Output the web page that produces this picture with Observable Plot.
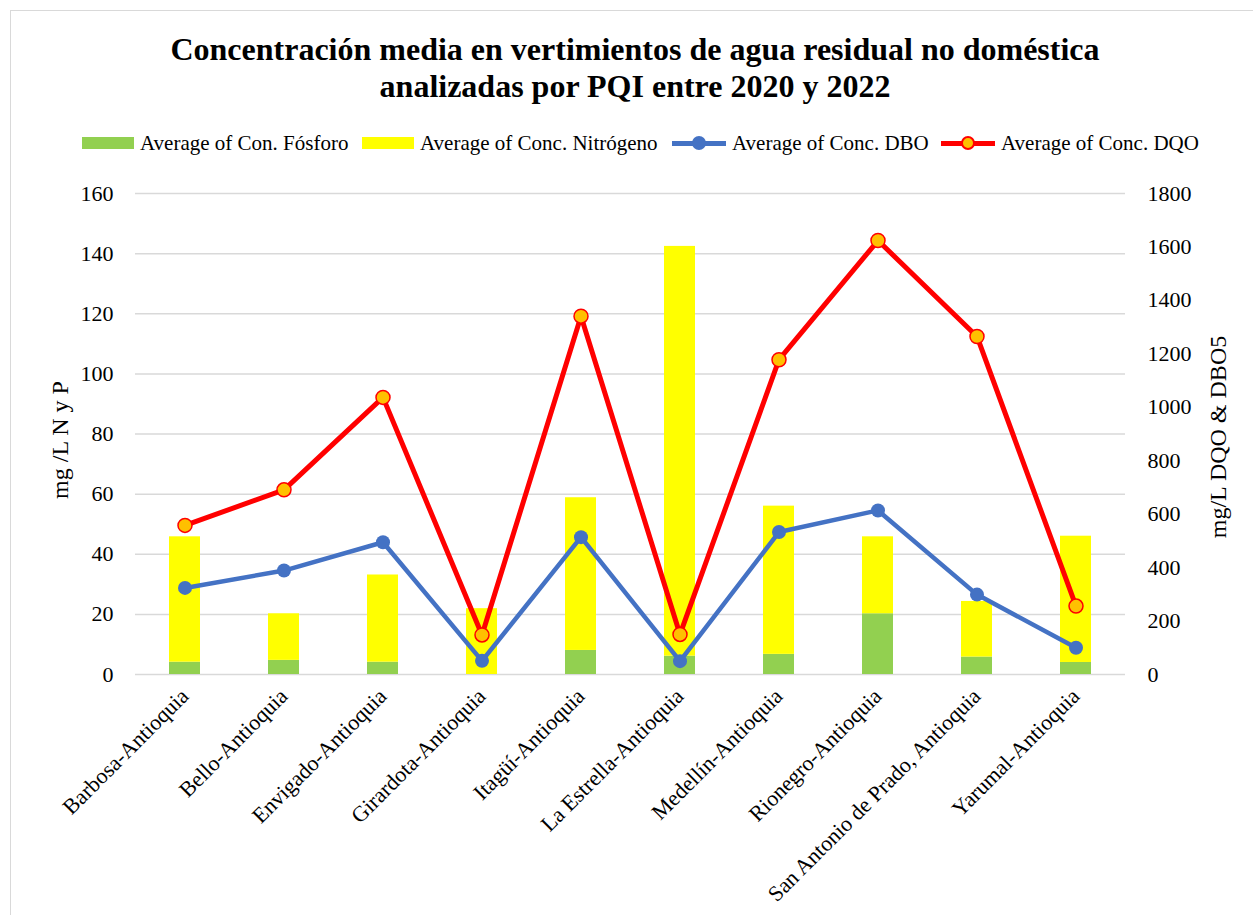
<!DOCTYPE html>
<html><head><meta charset="utf-8">
<script src="https://cdn.jsdelivr.net/npm/d3@7"></script>
<script src="https://cdn.jsdelivr.net/npm/@observablehq/plot@0.6"></script>
<style>
body{margin:0;background:#fff;font-family:"Liberation Serif","Times New Roman",serif;color:#000;}
#frame{position:absolute;left:10px;top:10px;width:1250px;height:910px;border:1px solid #d9d9d9;box-sizing:border-box;}
#title{position:absolute;left:10px;top:31px;width:1250px;text-align:center;font-weight:bold;font-size:32px;line-height:37px;}
.li{position:absolute;top:133px;height:20px;display:flex;align-items:center;font-size:21px;white-space:nowrap;}
.sw{display:inline-block;width:52px;height:12px;margin-right:6px;}
.ln{display:inline-block;position:relative;width:54px;height:20px;margin-right:6px;}
.ln i{position:absolute;left:0;right:0;top:8px;height:5px;}
.ln b{position:absolute;left:20px;top:3px;width:14px;height:14px;border-radius:50%;box-sizing:border-box;}
.yl{position:absolute;font-size:24px;white-space:nowrap;transform:translate(-50%,-50%) rotate(-90deg);}
#chart{position:absolute;left:0;top:165px;}
</style></head>
<body>
<div id="frame"></div>
<div id="title">Concentración media en vertimientos de agua residual no doméstica<br>analizadas por PQI entre 2020 y 2022</div>
<div id="legend"></div>
<div class="yl" style="left:60px;top:440px;">mg /L N y P</div>
<div class="yl" style="left:1218px;top:437px;">mg/L DQO &amp; DBO5</div>
<div id="chart"></div>
<script>
const categories = ["Barbosa-Antioquia","Bello-Antioquia","Envigado-Antioquia","Girardota-Antioquia","Itagüí-Antioquia","La Estrella-Antioquia","Medellín-Antioquia","Rionegro-Antioquia","San Antonio de Prado, Antioquia","Yarumal-Antioquia"];
const fosforo   = [4.1, 4.7, 4.1, 0.0, 8.0, 6.1, 6.7, 20.2, 5.8, 4.0];
const nitrogeno = [41.7, 15.5, 29.0, 21.9, 50.8, 136.3, 49.3, 25.6, 18.5, 42.0];
const dbo = [324, 389, 495, 51, 514, 50, 533, 614, 299, 100];
const dqo = [558, 691, 1037, 148, 1341, 150, 1178, 1624, 1265, 256];
const leftTicks = [0,20,40,60,80,100,120,140,160];
const rightTicks = [0,200,400,600,800,1000,1200,1400,1600,1800];
const seriesNames = ["Average of Con. Fósforo","Average of Conc. Nitrógeno","Average of Conc. DBO","Average of Conc. DQO"];
const colors = {p:"#92D050", n:"#FFFF00", dbo:"#4472C4", dqo:"#FF0000", dqoFill:"#FFC000"};

const k = 160/1800;
const data = categories.map((c,i)=>({c, p:fosforo[i], n:nitrogeno[i], dbo:dbo[i], dqo:dqo[i]}));

// legend
const lg = document.getElementById("legend");
const lx = [82, 362, 672, 941];
lx.forEach((x,i)=>{
  const d = document.createElement("div");
  d.className="li"; d.style.left=x+"px";
  let sw;
  if(i<2){ sw = `<span class="sw" style="background:${i==0?colors.p:colors.n}"></span>`; }
  else if(i==2){ sw = `<span class="ln"><i style="background:${colors.dbo}"></i><b style="background:${colors.dbo}"></b></span>`; }
  else { sw = `<span class="ln"><i style="background:${colors.dqo}"></i><b style="background:${colors.dqoFill};border:2px solid ${colors.dqo}"></b></span>`; }
  d.innerHTML = sw + `<span>${seriesNames[i]}</span>`;
  lg.appendChild(d);
});

const chart = Plot.plot({
  width:1253, height:750, marginTop:28, marginBottom:241, marginLeft:135, marginRight:128,
  style:{fontFamily:'"Liberation Serif","Times New Roman",serif', fontSize:"22px", color:"#000", background:"transparent", overflow:"visible"},
  x:{domain:categories, paddingInner:0.69, paddingOuter:0.345, label:null},
  y:{domain:[0,160], label:null},
  marks:[
    Plot.gridY(leftTicks, {stroke:"#d9d9d9", strokeOpacity:1, strokeWidth:1.5}),
    Plot.axisY(leftTicks, {anchor:"left", tickSize:0, tickPadding:22, label:null, fontSize:22}),
    Plot.axisY(rightTicks.map(v=>v*k), {anchor:"right", tickSize:0, tickPadding:22, label:null, fontSize:22, tickFormat:v=>String(Math.round(v/k))}),
    Plot.axisX({tickRotate:-45, tickSize:0, tickPadding:18, label:null, fontSize:22}),
    Plot.barY(data,{x:"c", y1:0, y2:"p", fill:colors.p}),
    Plot.barY(data,{x:"c", y1:"p", y2:d=>d.p+d.n, fill:colors.n}),
    Plot.line(data,{x:"c", y:d=>d.dbo*k, stroke:colors.dbo, strokeWidth:4.5}),
    Plot.dot(data,{x:"c", y:d=>d.dbo*k, r:7, fill:colors.dbo, stroke:"none"}),
    Plot.line(data,{x:"c", y:d=>d.dqo*k, stroke:colors.dqo, strokeWidth:5}),
    Plot.dot(data,{x:"c", y:d=>d.dqo*k, r:7, fill:colors.dqoFill, stroke:colors.dqo, strokeWidth:1.5})
  ]
});
document.getElementById("chart").appendChild(chart);
</script>
</body></html>
